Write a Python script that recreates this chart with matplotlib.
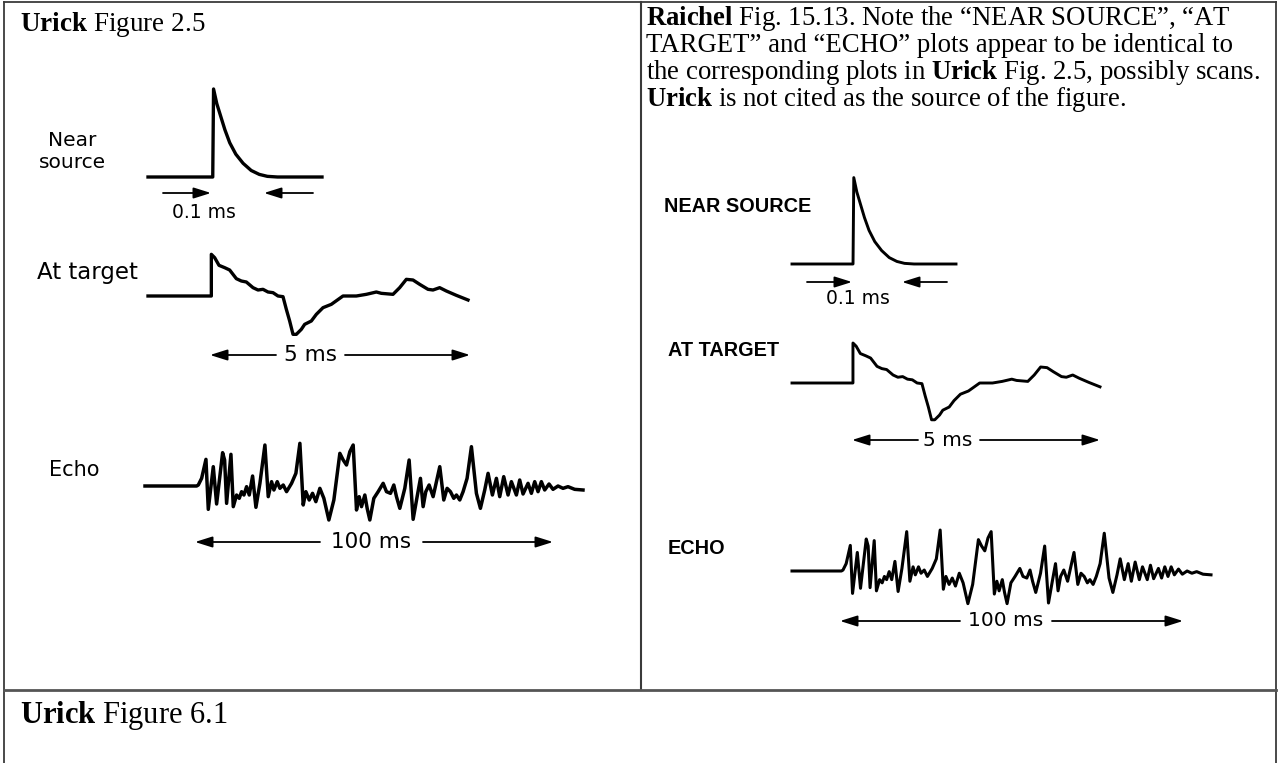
import matplotlib
matplotlib.use("Agg")
import matplotlib.pyplot as plt

# ---------------- data (arbitrary units) -------------
near_t = [360, 520, 522, 530, 540, 550, 562, 577, 595, 615, 635, 655, 680, 790]
near_a = [0, 0, 270, 225, 185, 145, 105, 70, 42, 20, 8, 2, 0, 0]

target_t = [55, 245, 245, 255, 268, 285, 300, 320, 335, 350, 370, 385, 400, 415, 430,
            445, 460, 470, 480, 490, 500, 515, 525, 545, 560, 580, 605, 640, 680, 710,
            740, 755, 790, 810, 830, 850, 870, 895, 910, 930, 950, 980, 1015]
target_a = [0, 0, 125, 115, 92, 85, 78, 52, 45, 42, 25, 18, 20, 12, 10,
            0, -2, -40, -75, -115, -115, -100, -85, -75, -55, -35, -25, 0, 0, 5,
            12, 8, 5, 25, 50, 48, 35, 20, 18, 25, 15, 2, -12]

echo_t = [45, 200, 205, 215, 228, 235, 250, 260, 278, 284, 290, 303, 310, 320, 328, 335,
          342, 350, 358, 368, 378, 390, 405, 415, 425, 432, 442, 450, 460, 470, 485, 498,
          510, 520, 528, 538, 548, 558, 570, 582, 597, 612, 630, 640, 650, 660, 670, 680,
          688, 695, 705, 712, 720, 732, 745, 760, 770, 782, 792, 800, 810, 825, 838, 850,
          862, 872, 880, 888, 898, 910, 930, 942, 952, 962, 972, 980, 990, 1000, 1012,
          1025, 1040, 1052, 1065, 1075, 1088, 1100, 1110, 1122, 1135, 1145, 1160, 1170,
          1180, 1195, 1205, 1215, 1225, 1235, 1245, 1258, 1270, 1285, 1300, 1315, 1335,
          1360]
echo_a = [0, 0, 3, 23, 80, -70, 58, -54, 100, 78, -52, 95, -62, -27, -37, -17,
          -27, -2, -27, 30, -64, 8, 123, -32, 13, -12, 13, -7, 3, -17, 8, 38,
          128, -57, -17, -42, -22, -47, -7, -37, -102, -42, 98, 78, 63, 103, 123, -72,
          -32, -62, -27, -67, -102, -37, -17, 8, -17, -22, 3, -32, -67, -7, 78, -100,
          -32, 23, -62, -17, 3, -32, 58, -42, -7, -17, -37, -27, -42, -17, 23,
          118, -22, -67, -12, 38, -27, 23, -32, 28, -27, 13, -27, 18,
          -24, 8, -22, 13, -17, 13, -12, 6, -10, 0, -7, -2, -10,
          -12]

left_labels = ["Near\nsource", "At target", "Echo"]
right_labels = ["NEAR SOURCE", "AT TARGET", "ECHO"]
span_labels = ["0.1 ms", "5 ms", "100 ms"]

title_left = r"$\mathbf{Urick}$ Figure 2.5"
title_bottom = r"$\mathbf{Urick}$ Figure 6.1"
para_lines = [
    r"$\mathbf{Raichel}$ Fig. 15.13. Note the “NEAR SOURCE”, “AT",
    "TARGET” and “ECHO” plots appear to be identical to",
    r"the corresponding plots in $\mathbf{Urick}$ Fig. 2.5, possibly scans.",
    r"$\mathbf{Urick}$ is not cited as the source of the figure.",
]

# ---------------- figure -----------------
W, H, DPI = 1279, 763, 100
plt.rcParams["mathtext.fontset"] = "custom"
plt.rcParams["mathtext.rm"] = "Liberation Serif"
plt.rcParams["mathtext.bf"] = "Liberation Serif:bold"

fig = plt.figure(figsize=(W / DPI, H / DPI), dpi=DPI, facecolor="white")
bg = fig.add_axes([0, 0, 1, 1])
bg.set_xlim(0, W)
bg.set_ylim(H, 0)
bg.axis("off")

SERIF = "Liberation Serif"
SANS = "DejaVu Sans"
BOLDSANS = "Liberation Sans"

# borders
bc = "#3a3a3a"
bg.plot([4, 4], [2, H], color=bc, lw=1.3)
bg.plot([1276, 1276], [2, H], color=bc, lw=1.3)
bg.plot([4, 1276], [2, 2], color=bc, lw=1.3)
bg.plot([641, 641], [2, 690], color=bc, lw=1.5)
bg.plot([4, 1276], [690, 690], color="#555555", lw=2.0)

# titles / paragraph
bg.text(20, 31, title_left, fontsize=19.5, family=SERIF, va="baseline", ha="left")
bg.text(20, 723, title_bottom, fontsize=22, family=SERIF, va="baseline", ha="left")
for i, ln in enumerate(para_lines):
    bg.text(646, 25 + 27 * i, ln, fontsize=19.3, family=SERIF, va="baseline", ha="left")


def wave(t, a, x0, x1, base, vscale, lw):
    amin, amax = min(a), max(a)
    top = base - amax * vscale
    bot = base - amin * vscale
    ax = fig.add_axes([x0 / W, 1 - bot / H, (x1 - x0) / W, (bot - top) / H])
    ax.plot(t, a, color="black", lw=lw, solid_joinstyle="round", clip_on=False)
    ax.set_xlim(t[0], t[-1])
    ax.set_ylim(amin, amax)
    ax.axis("off")


AP = dict(arrowstyle="-|>,head_length=0.7,head_width=0.22", color="black", lw=1.3,
          shrinkA=0, shrinkB=0, mutation_scale=15)


def arrow(x_from, x_to, y):
    bg.annotate("", xy=(x_to, y), xytext=(x_from, y), arrowprops=AP)


# ---- left panel ----
wave(near_t, near_a, 148, 322, 177, 0.326, 2.4)
wave(target_t, target_a, 148, 468, 296, 1 / 3, 2.4)
wave(echo_t, echo_a, 145, 583, 486, 1 / 3, 2.5)

bg.text(72, 152, left_labels[0], fontsize=14.5, family=SANS, ha="center", va="center",
        linespacing=1.2)
bg.text(138, 273, left_labels[1], fontsize=16.5, family=SANS, ha="right", va="center")
bg.text(74, 470, left_labels[2], fontsize=15, family=SANS, ha="center", va="center")

arrow(163, 211, 193)
arrow(313, 264, 193)
bg.text(204, 212, span_labels[0], fontsize=13.5, family=SANS, ha="center", va="center")

arrow(276, 210, 355)
arrow(345, 470, 355)
bg.text(310, 355, span_labels[1], fontsize=15.5, family=SANS, ha="center", va="center")

arrow(320, 195, 542)
arrow(423, 553, 542)
bg.text(371, 542, span_labels[2], fontsize=15.5, family=SANS, ha="center", va="center")

# ---- right panel ----
wave(near_t, near_a, 792, 956, 264, 0.32, 2.1)
wave(target_t, target_a, 792, 1100, 383, 0.32, 2.1)
wave(echo_t, echo_a, 792, 1211, 571, 0.32, 2.2)

bg.text(664, 206, right_labels[0], fontsize=14.3, family=BOLDSANS, weight="bold",
        ha="left", va="center")
bg.text(668, 351, right_labels[1], fontsize=14.3, family=BOLDSANS, weight="bold",
        ha="left", va="center")
bg.text(668, 548, right_labels[2], fontsize=14.3, family=BOLDSANS, weight="bold",
        ha="left", va="center")

arrow(807, 852, 282)
arrow(947, 902, 282)
bg.text(858, 299, span_labels[0], fontsize=13.5, family=SANS, ha="center", va="center")

arrow(918, 852, 440)
arrow(980, 1100, 440)
bg.text(948, 440, span_labels[1], fontsize=14.5, family=SANS, ha="center", va="center")

arrow(960, 840, 621)
arrow(1052, 1183, 621)
bg.text(1006, 621, span_labels[2], fontsize=14.5, family=SANS, ha="center", va="center")

fig.savefig("out.png", dpi=DPI, facecolor="white")
